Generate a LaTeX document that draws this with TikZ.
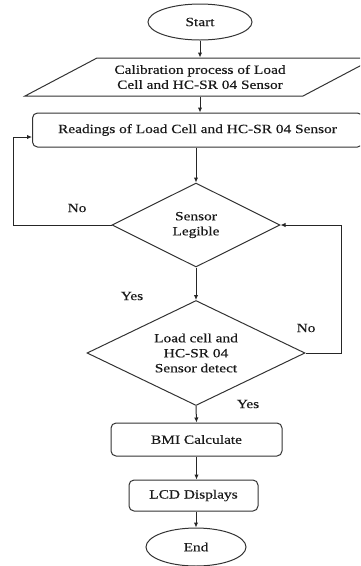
\documentclass[tikz,border=0pt]{standalone}
\usepackage{fontspec}
\setmainfont{Liberation Serif}[FakeStretch=1.22,FakeBold=0.4]
\usetikzlibrary{shapes.geometric,arrows.meta,calc}
\begin{document}
\begin{tikzpicture}[x=1pt,y=-1pt,
  line width=1pt,
  every node/.style={font=\fontsize{12.6}{15}\selectfont, text=black!90},
  shp/.style={draw=black!80, inner sep=0pt},
  rbox/.style={shp, rectangle, rounded corners=5pt},
  term/.style={shp, ellipse},
  deci/.style={shp, diamond, align=center},
  arr/.style={draw=black!85, -{Latex[length=5pt,width=4.5pt]}}]
\useasboundingbox (0,0) rectangle (360,566);
\clip (0,0) rectangle (360,566);
% shapes
\node[term, minimum width=104pt, minimum height=36pt] (start) at (200,22) {Start};
\draw[draw=black!80] (97,58) -- (375,58) -- (303,96) -- (25,96) -- cycle;
\node[align=center, minimum height=38pt, inner sep=0pt] (calib) at (200,77) {Calibration process of Load\\Cell and HC-SR 04 Sensor};
\node[rbox, minimum width=330pt, minimum height=34pt] (read) at (197.5,130) {Readings of Load Cell and HC-SR 04 Sensor};
\node[deci, minimum width=168pt, minimum height=84pt, aspect=2] (d1) at (196,225) {Sensor\\Legible};
\node[deci, minimum width=218pt, minimum height=105pt, aspect=2.08] (d2) at (196,353) {Load cell and\\HC-SR 04\\Sensor detect};
\node[rbox, minimum width=171pt, minimum height=33pt] (bmi) at (196.5,439.5) {BMI Calculate};
\node[rbox, minimum width=129pt, minimum height=31pt] (lcd) at (193.5,495.5) {LCD Displays};
\node[term, minimum width=100pt, minimum height=38pt] (end) at (196,547) {End};
% helper coordinates
\coordinate (lx) at (13,0);
\coordinate (rx) at (341,0);
\coordinate (rin) at ($(read.west)+(0,7)$);
% connectors
\draw[arr] (start.south) -- (calib.north);
\draw[arr] (calib.south) -- (calib.south |- read.north);
\draw[arr] (d1.north |- read.south) -- (d1.north);
\draw[arr] (d1.south) -- (d2.north);
\draw[arr] (d1.west) -- (d1.west -| lx) |- (rin);
\draw[arr] (d2.east) -- (d2.east -| rx) |- (d1.east);
\draw[arr] (d2.south) -- (bmi.north);
\draw[arr] (bmi.south) -- (bmi.south |- lcd.north);
\draw[arr] (end.north |- lcd.south) -- (end.north);
% labels
\node (lno1) at (77,208) {No};
\node (lyes1) at (132,296) {Yes};
\node (lno2) at (306,328) {No};
\node (lyes2) at (248,404) {Yes};
\end{tikzpicture}
\end{document}
